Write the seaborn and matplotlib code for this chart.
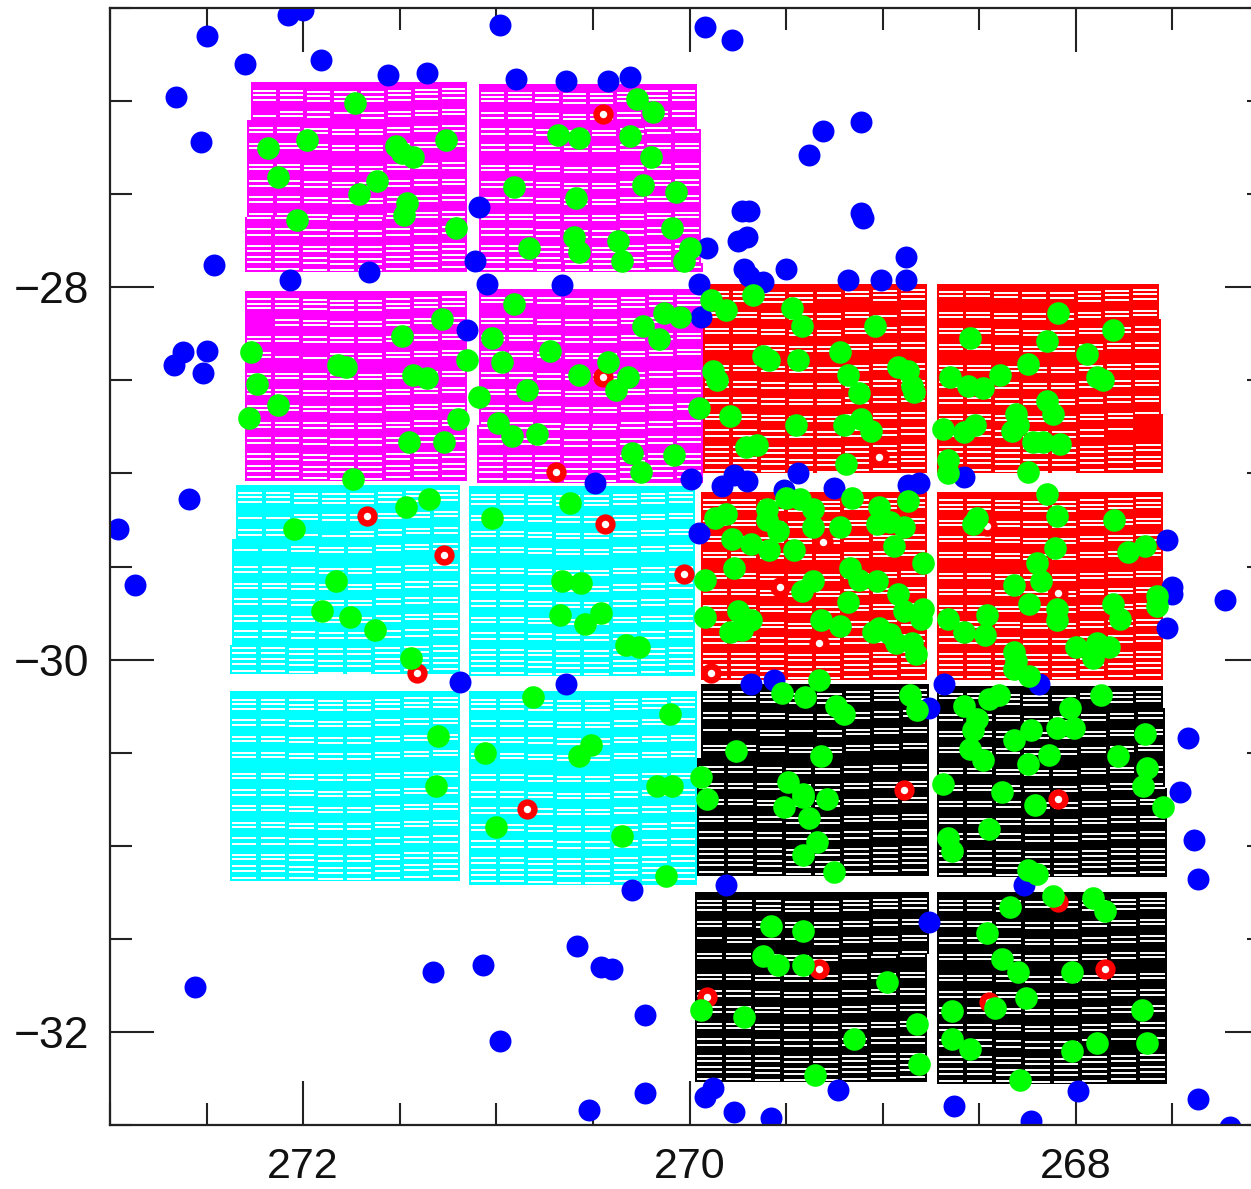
import pandas as pd
import matplotlib.pyplot as plt
from matplotlib.ticker import MultipleLocator
import seaborn as sns

# Sources as (ra, dec) in degrees
blue_points = [
    (272.50,-26.65),(272.08,-26.54),(272.00,-26.51),(272.30,-26.80),(271.91,-26.78),(271.56,-26.86),(271.36,-26.85),
    (272.66,-26.98),(272.53,-27.22),(272.46,-27.88),(272.07,-27.96),(271.66,-27.92),(272.62,-28.35),(272.50,-28.34),
    (272.67,-28.42),(272.52,-28.46),(272.59,-29.14),(272.96,-29.30),(272.87,-29.60),(271.09,-27.57),(271.11,-27.86),
    (271.05,-27.98),(270.66,-27.99),(271.15,-28.23),(270.98,-26.59),(270.90,-26.88),(270.64,-26.89),(270.42,-26.89),
    (270.31,-26.87),(269.92,-26.60),(269.78,-26.67),(269.31,-27.16),(269.38,-27.29),(269.11,-27.11),(269.73,-27.59),
    (269.69,-27.59),(269.75,-27.75),(269.70,-27.73),(269.91,-27.79),(269.11,-27.60),(269.10,-27.63),(269.72,-27.90),
    (269.69,-27.94),(269.62,-27.97),(269.50,-27.90),(269.18,-27.96),(269.01,-27.96),(268.88,-27.84),(268.88,-27.96),
    (269.95,-27.98),(269.94,-28.16),(269.99,-29.03),(269.83,-29.07),(269.77,-29.01),(269.70,-29.04),(269.44,-29.00),
    (269.51,-29.09),(269.25,-29.08),(268.87,-29.06),(268.81,-29.05),(269.95,-29.32),(270.49,-29.05),(269.68,-30.13),
    (269.56,-30.11),(268.68,-30.13),(268.19,-30.13),(268.58,-29.02),(267.53,-29.36),(267.50,-29.61),(267.50,-29.65),
    (267.23,-29.68),(267.53,-29.83),(271.19,-30.12),(270.64,-30.13),(268.76,-30.26),(269.81,-31.21),(267.42,-30.42),
    (267.46,-30.71),(267.39,-30.97),(267.37,-31.18),(268.27,-31.21),(268.76,-31.41),(267.99,-32.32),(268.63,-32.40),
    (268.23,-32.48),(267.37,-32.36),(267.20,-32.51),(269.88,-32.30),(269.92,-32.35),(269.77,-32.43),(269.58,-32.46),
    (269.23,-32.31),(270.30,-31.24),(270.58,-31.54),(270.46,-31.65),(270.40,-31.66),(271.07,-31.64),(271.33,-31.68),
    (272.56,-31.76),(270.23,-31.91),(270.98,-32.05),(270.23,-32.33),(270.52,-32.42),
]

red_points = [
    (270.45,-27.07),(270.45,-28.48),(270.69,-28.99),(271.67,-29.23),(271.27,-29.44),(270.44,-29.27),(270.03,-29.54),
    (271.41,-30.07),(270.84,-30.80),(268.89,-30.70),(268.09,-30.75),(269.89,-30.07),(269.02,-28.91),(269.31,-29.37),
    (269.53,-29.61),(269.33,-29.91),(268.46,-29.28),(268.09,-29.64),(268.09,-31.30),(267.85,-31.66),(269.33,-31.66),
    (269.91,-31.81),(268.45,-31.84),
]

green_points = [
    # magenta tiles
    (271.73,-27.01),(272.18,-27.25),(271.98,-27.21),(271.52,-27.24),(271.49,-27.28),(271.43,-27.30),(271.26,-27.21),
    (272.13,-27.41),(271.62,-27.43),(271.71,-27.50),(271.46,-27.55),(271.48,-27.61),(272.03,-27.64),(271.21,-27.68),
    (271.28,-28.17),(271.49,-28.26),(272.27,-28.35),(271.82,-28.42),(271.78,-28.43),(271.43,-28.47),(271.36,-28.49),
    (271.15,-28.39),(272.24,-28.52),(272.13,-28.63),(272.28,-28.70),(271.20,-28.71),(271.27,-28.83),(271.45,-28.83),
    (271.74,-29.03),(270.27,-26.99),(270.19,-27.06),(270.68,-27.18),(270.57,-27.20),(270.31,-27.19),(270.20,-27.30),
    (270.91,-27.46),(270.59,-27.52),(270.24,-27.45),(270.07,-27.49),(270.09,-27.68),(270.60,-27.73),(270.57,-27.81),
    (270.83,-27.79),(270.37,-27.75),(270.35,-27.86),(270.00,-27.79),(270.03,-27.86),(270.91,-28.09),(271.02,-28.27),
    (270.24,-28.21),(270.16,-28.28),(270.13,-28.14),(270.05,-28.16),(270.72,-28.34),(270.97,-28.40),(270.42,-28.40),
    (270.57,-28.47),(270.32,-28.48),(270.38,-28.55),(270.84,-28.55),(271.09,-28.59),(270.99,-28.73),(270.92,-28.80),
    (270.79,-28.79),(269.95,-28.65),(270.30,-28.89),(270.08,-28.90),(270.25,-28.99),
    # red tiles
    (269.89,-28.07),(269.81,-28.12),(269.67,-28.04),(269.47,-28.11),(269.42,-28.21),(269.04,-28.21),(269.62,-28.37),
    (269.59,-28.39),(269.44,-28.39),(269.22,-28.35),(269.18,-28.47),(269.12,-28.57),(269.88,-28.45),(269.86,-28.50),
    (268.92,-28.43),(268.87,-28.45),(268.85,-28.53),(268.84,-28.56),(269.79,-28.69),(269.45,-28.74),(269.20,-28.74),
    (269.11,-28.71),(269.06,-28.77),(269.71,-28.86),(269.65,-28.85),(269.19,-28.95),
    (268.09,-28.14),(267.81,-28.23),(268.55,-28.27),(268.15,-28.29),(267.94,-28.36),(268.25,-28.41),(268.39,-28.47),
    (268.65,-28.48),(268.56,-28.53),(268.48,-28.54),(267.89,-28.48),(267.86,-28.50),(268.15,-28.61),(268.12,-28.68),
    (268.31,-28.68),(268.30,-28.74),(268.33,-28.77),(268.52,-28.74),(268.58,-28.78),(268.69,-28.76),(268.22,-28.83),
    (268.17,-28.83),(268.08,-28.84),(268.66,-28.93),(268.66,-29.00),(268.25,-28.99),
    (269.16,-29.13),(269.50,-29.13),(269.43,-29.14),(269.36,-29.19),(269.60,-29.19),(269.60,-29.25),(269.54,-29.31),
    (269.36,-29.29),(269.22,-29.29),(269.02,-29.18),(268.87,-29.15),(269.03,-29.27),(268.96,-29.26),(268.89,-29.29),
    (268.94,-29.39),(269.87,-29.24),(269.81,-29.22),(269.78,-29.35),(269.68,-29.38),(269.59,-29.41),(269.46,-29.41),
    (268.79,-29.48),(269.77,-29.51),(269.92,-29.57),(269.17,-29.51),(269.12,-29.57),(269.03,-29.58),(269.36,-29.58),
    (269.42,-29.63),(268.92,-29.65),(269.18,-29.69),(268.89,-29.74),(268.79,-29.73),(268.80,-29.78),(269.92,-29.77),
    (269.75,-29.74),(269.68,-29.79),(269.79,-29.85),(269.73,-29.84),(269.32,-29.79),(269.22,-29.82),(269.05,-29.85),
    (269.02,-29.83),(268.96,-29.86),(268.93,-29.91),(268.85,-29.91),(268.83,-29.97),
    (268.15,-29.11),(268.10,-29.23),(268.51,-29.24),(268.53,-29.27),(267.80,-29.25),(268.11,-29.40),(267.73,-29.42),
    (267.64,-29.39),(268.20,-29.48),(268.18,-29.58),(268.32,-29.60),(268.24,-29.70),(268.10,-29.73),(268.10,-29.79),
    (267.81,-29.70),(267.77,-29.78),(267.58,-29.66),(267.58,-29.71),(268.66,-29.78),(268.46,-29.76),(268.58,-29.85),
    (268.47,-29.87),(268.00,-29.93),(267.89,-29.91),(267.83,-29.93),(267.91,-29.99),(268.32,-29.96),(268.31,-30.01),
    (268.32,-30.05),(268.24,-30.09),
    # black tiles
    (269.33,-30.11),(269.52,-30.18),(269.40,-30.20),(269.24,-30.25),(269.20,-30.29),(268.86,-30.19),(268.82,-30.27),
    (269.76,-30.49),(269.32,-30.52),(269.94,-30.63),(269.91,-30.75),(269.49,-30.66),(269.41,-30.72),(269.41,-30.74),
    (269.29,-30.75),(269.51,-30.79),(269.38,-30.85),(269.34,-30.98),(269.41,-31.05),(269.25,-31.14),
    (268.40,-30.19),(268.45,-30.21),(267.87,-30.19),(268.58,-30.25),(268.03,-30.26),(268.51,-30.32),(268.53,-30.38),
    (268.32,-30.43),(268.23,-30.38),(268.10,-30.37),(268.01,-30.37),(267.64,-30.40),(268.55,-30.48),(268.48,-30.54),
    (268.14,-30.51),(268.25,-30.56),(267.78,-30.52),(267.63,-30.58),(267.65,-30.68),(268.69,-30.67),(268.38,-30.71),
    (268.21,-30.78),(267.55,-30.79),(268.45,-30.91),(268.66,-30.96),(268.64,-31.03),(268.25,-31.13),(268.20,-31.15),
    (268.12,-31.27),(267.91,-31.28),(267.85,-31.35),(268.34,-31.33),(268.46,-31.47),(268.38,-31.61),(268.30,-31.68),
    (268.02,-31.68),(268.26,-31.82),(267.66,-31.88),(268.64,-31.89),(268.42,-31.87),(268.64,-32.04),(268.55,-32.09),
    (267.89,-32.06),(268.02,-32.10),(267.63,-32.06),(268.29,-32.26),
    (269.58,-31.43),(269.41,-31.46),(269.62,-31.59),(269.54,-31.64),(269.41,-31.64),(268.98,-31.73),(269.94,-31.88),
    (269.72,-31.92),(268.82,-31.96),(269.15,-32.04),(268.81,-32.17),(269.35,-32.23),
    # cyan tiles
    (271.35,-29.14),(271.47,-29.18),(272.05,-29.30),(271.83,-29.58),(271.90,-29.74),(271.76,-29.77),(271.63,-29.84),
    (271.44,-29.99),(270.62,-29.16),(271.02,-29.24),(270.66,-29.58),(270.56,-29.59),(270.67,-29.76),(270.46,-29.75),
    (270.54,-29.81),(270.33,-29.92),(270.26,-29.93),(270.81,-30.20),(270.10,-30.29),(271.30,-30.41),(270.51,-30.46),
    (270.57,-30.52),(271.06,-30.50),(271.31,-30.68),(270.17,-30.68),(270.09,-30.68),(271.00,-30.90),(270.35,-30.95),
    (270.12,-31.16),
]

# Survey tiles: colour, dec edges (top, break, break, bottom), left ra and right ra per band
tile_colors = ['#ff00ff', '#ff00ff', '#ff00ff', '#ff00ff', '#00ffff', '#00ffff', '#00ffff', '#00ffff',
               '#ff0000', '#ff0000', '#ff0000', '#ff0000', '#000000', '#000000', '#000000', '#000000']
tile_decs = [
    (-26.90,-27.10,-27.62,-27.92), (-26.91,-27.15,-27.87,-27.92), (-28.02,-28.40,-28.70,-29.04), (-28.01,-28.40,-28.74,-29.05),
    (-29.06,-29.35,-29.92,-30.08), (-29.07,-29.40,-29.80,-30.09), (-30.17,-30.50,-30.90,-31.19), (-30.17,-30.50,-30.90,-31.21),
    (-27.98,-28.30,-28.70,-29.00), (-27.98,-28.17,-28.68,-29.00), (-29.10,-29.40,-29.80,-30.11), (-29.10,-29.40,-29.80,-30.11),
    (-30.13,-30.53,-30.90,-31.16), (-30.14,-30.26,-30.69,-31.17), (-31.25,-31.58,-31.90,-32.27), (-31.25,-31.60,-31.90,-32.28),
]
tile_left = [
    (272.27,272.29,272.30), (271.09,271.09,271.09), (272.30,272.30,272.30), (271.09,271.09,271.10),
    (272.35,272.37,272.38), (271.14,271.14,271.14), (272.38,272.38,272.38), (271.14,271.14,271.14),
    (269.93,269.93,269.93), (268.72,268.72,268.72), (269.94,269.94,269.94), (268.72,268.72,268.72),
    (269.94,269.96,269.96), (268.72,268.72,268.72), (269.97,269.97,269.97), (268.72,268.72,268.72),
]
tile_right = [
    (271.15,271.15,271.15), (269.96,269.94,269.93), (271.15,271.15,271.15), (269.93,269.93,269.93),
    (271.19,271.19,271.19), (269.97,269.97,269.97), (271.19,271.19,271.19), (269.96,269.96,269.96),
    (268.77,268.77,268.77), (267.57,267.56,267.55), (268.77,268.77,268.77), (267.55,267.55,267.55),
    (268.76,268.76,268.76), (267.55,267.54,267.53), (268.76,268.77,268.77), (267.53,267.53,267.53),
]

# Slit rows as a fraction of the tile height and the small shift of each of the 8 columns
slit_rows = [.044,.067,.091,.154,.177,.24,.263,.325,.347,.435,.458,.521,.544,.605,.628,.693,.716,.772,.802,.86,.886,.921,.947,.982]
column_shift = [0,0,.004,.008,.008,0,-.006,-.010]
# Slits that are absent on the picture: (tile, column, row)
missing_slits = [
    (9,0,2),(9,1,2),(9,2,2),(9,3,2),(9,4,2),(9,7,17),(9,7,18),(9,6,18),(9,7,16),
    (8,4,2),(8,5,2),(8,6,3),(2,0,3),(2,0,4),(2,1,7),(2,2,7),(3,0,2),(3,1,2),(3,2,2),(3,3,2),
    (0,0,3),(0,3,4),(4,0,3),(4,1,3),(4,0,7),(4,1,7),(4,2,5),(4,3,5),(12,0,6),(12,1,6),(12,3,6),
    (13,4,2),(13,5,2),(13,0,2),(13,1,2),(14,0,6),(14,2,6),(14,3,6),(15,5,18),(15,6,18),(15,7,18),(15,3,2),(15,4,2),
]

sns.set_style('ticks')
plt.rcParams['font.family'] = ['Liberation Sans', 'DejaVu Sans']

fig = plt.figure(figsize=(12.51, 11.89))
ax = fig.add_axes([110/1251, 64/1189, 1159/1251, 1117/1189])
ax.set_axisbelow(True)

# Tiles
for t, color in enumerate(tile_colors):
    top, b1, b2, bottom = tile_decs[t]
    bands = [(top, b1), (b1, b2), (b2, bottom)]
    for i, (y0, y1) in enumerate(bands):
        ax.fill_between([tile_left[t][i], tile_right[t][i]], y0, y1, color=color, lw=0, zorder=1)
    height = top - bottom
    for col in range(8):
        for r, frac in enumerate(slit_rows):
            if (t, col, r) in missing_slits:
                continue
            y = top - (frac + column_shift[col]) * height
            i = 0 if y > b1 else (1 if y > b2 else 2)
            width = (tile_right[t][i] - tile_left[t][i]) / 8
            ax.hlines(y, tile_left[t][i] + (col + 0.07) * width, tile_left[t][i] + (col + 0.93) * width,
                      color='white', lw=1.4, zorder=2)

# Sources
blue = pd.DataFrame(blue_points, columns=['ra', 'dec'])
red = pd.DataFrame(red_points, columns=['ra', 'dec'])
green = pd.DataFrame(green_points, columns=['ra', 'dec'])
sns.scatterplot(data=blue, x='ra', y='dec', color='#0000ff', s=250, linewidth=0, ax=ax, zorder=3, legend=False)
sns.scatterplot(data=red, x='ra', y='dec', facecolor='white', edgecolor='#ff0000', s=100, linewidth=4.6, ax=ax, zorder=4, legend=False)
sns.scatterplot(data=green, x='ra', y='dec', color='#00ff00', s=265, linewidth=0, ax=ax, zorder=5, legend=False)

ax.set_xlim(273, 267)
ax.set_ylim(-32.5, -26.5)
ax.set_xlabel('')
ax.set_ylabel('')
ax.xaxis.set_major_locator(MultipleLocator(2))
ax.xaxis.set_minor_locator(MultipleLocator(0.5))
ax.yaxis.set_major_locator(MultipleLocator(2))
ax.yaxis.set_minor_locator(MultipleLocator(0.5))
ax.tick_params(which='major', direction='in', top=True, right=True, length=32, width=1.5, color='#222222')
ax.tick_params(which='minor', direction='in', top=True, right=True, length=16, width=1.5, color='#222222')
ax.tick_params(axis='x', which='major', labelsize=31, pad=16, labelcolor='#111111')
ax.tick_params(axis='y', which='major', labelsize=32, pad=15, labelcolor='#111111')
for spine in ax.spines.values():
    spine.set_linewidth(1.6)
    spine.set_color('#222222')
    spine.set_zorder(6)

fig.savefig('out.png', dpi=100)
